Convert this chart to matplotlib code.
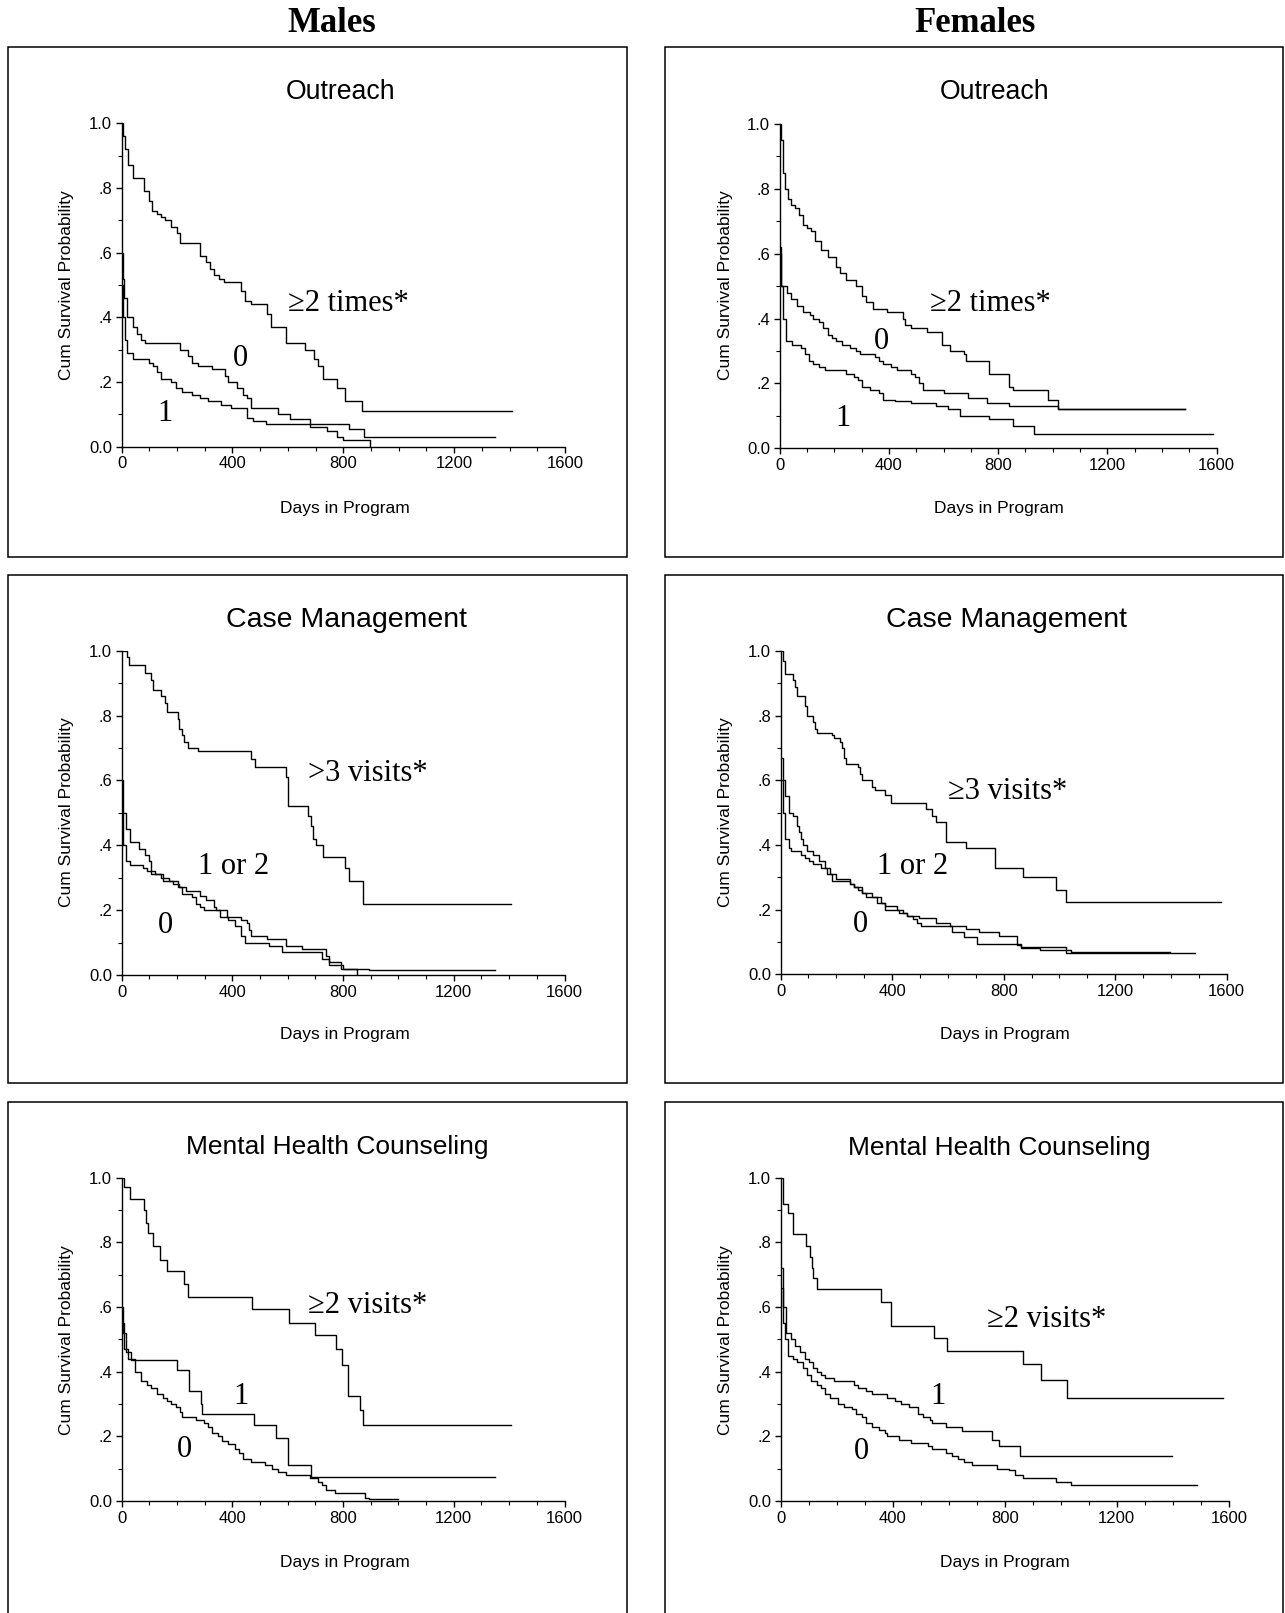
import matplotlib
matplotlib.use("Agg")
import matplotlib.pyplot as plt
from matplotlib.patches import Rectangle

W, H = 1285, 1613

# ---- data: Kaplan-Meier steps (day the level starts, survival level) ----
# Males, Outreach
m_out_2_t = [0, 5, 12, 22, 40, 80, 99, 111, 128, 143, 158, 180, 199, 209, 283, 305, 320, 335, 350, 370, 430, 445, 467, 526, 540, 593, 660, 696, 710, 725, 777, 807, 866, 1408]
m_out_2_s = [1.0, .96, .92, .87, .83, .79, .76, .73, .72, .71, .70, .68, .66, .63, .59, .57, .55, .53, .52, .51, .48, .45, .44, .41, .37, .32, .30, .27, .25, .21, .18, .14, .11, .11]
m_out_0_t = [0, 5, 10, 20, 40, 55, 70, 85, 209, 240, 255, 275, 327, 372, 385, 415, 438, 452, 467, 563, 608, 681, 822, 873, 1348]
m_out_0_s = [.60, .52, .46, .40, .37, .35, .33, .32, .30, .28, .26, .25, .24, .22, .20, .18, .16, .15, .12, .10, .085, .07, .055, .03, .03]
m_out_1_t = [0, 5, 12, 20, 40, 99, 113, 128, 143, 180, 195, 217, 254, 283, 313, 357, 394, 453, 475, 520, 681, 740, 777, 800, 895]
m_out_1_s = [.50, .40, .33, .29, .27, .26, .25, .23, .21, .20, .18, .17, .16, .15, .14, .13, .12, .09, .08, .07, .06, .05, .03, .02, 0.0]

# Females, Outreach
f_out_2_t = [0, 5, 12, 20, 30, 40, 55, 70, 85, 100, 115, 130, 152, 175, 205, 220, 242, 280, 302, 317, 340, 392, 452, 459, 481, 541, 594, 624, 676, 683, 766, 840, 855, 982, 1020, 1483]
f_out_2_s = [1.0, .95, .85, .80, .77, .75, .74, .72, .69, .68, .67, .64, .61, .59, .56, .54, .52, .50, .47, .45, .43, .42, .40, .38, .37, .36, .32, .30, .29, .27, .23, .19, .18, .15, .12, .12]
f_out_0_t = [0, 5, 25, 40, 63, 85, 110, 123, 145, 160, 175, 190, 205, 227, 257, 280, 295, 347, 362, 377, 407, 429, 481, 496, 511, 526, 601, 691, 758, 840, 1020, 1483]
f_out_0_s = [.60, .50, .48, .46, .44, .42, .41, .40, .39, .37, .35, .34, .33, .32, .31, .30, .29, .28, .27, .26, .25, .24, .23, .22, .20, .18, .17, .155, .14, .13, .12, .12]
f_out_1_t = [0, 5, 12, 22, 45, 78, 93, 108, 123, 145, 167, 242, 272, 287, 302, 332, 362, 377, 422, 481, 571, 616, 661, 766, 855, 930, 1588]
f_out_1_s = [.62, .50, .40, .33, .32, .31, .29, .27, .26, .25, .24, .23, .22, .21, .19, .18, .17, .15, .145, .14, .13, .12, .10, .09, .07, .045, .045]

# Males, Case Management
m_cm_3_t = [0, 18, 25, 84, 106, 114, 143, 158, 165, 202, 209, 217, 224, 239, 276, 467, 482, 593, 600, 674, 685, 693, 703, 726, 807, 822, 873, 1408]
m_cm_3_s = [1.0, .98, .955, .93, .91, .88, .86, .84, .81, .79, .76, .74, .72, .70, .69, .665, .64, .61, .52, .49, .46, .42, .40, .365, .33, .29, .22, .22]
m_cm_12_t = [0, 5, 15, 30, 62, 84, 99, 106, 121, 143, 172, 187, 209, 231, 283, 305, 335, 342, 379, 430, 453, 460, 467, 526, 593, 652, 740, 748, 792, 895, 1348]
m_cm_12_s = [.60, .50, .45, .41, .39, .37, .35, .32, .31, .30, .29, .28, .27, .26, .245, .23, .21, .20, .18, .17, .16, .14, .12, .11, .09, .08, .06, .04, .02, .015, .015]
m_cm_0_t = [0, 5, 15, 30, 77, 92, 106, 150, 202, 217, 254, 268, 283, 298, 357, 386, 408, 430, 445, 534, 578, 725, 748, 800, 851]
m_cm_0_s = [.50, .40, .35, .34, .33, .32, .31, .29, .27, .25, .24, .22, .21, .20, .18, .17, .15, .12, .10, .09, .07, .05, .03, .02, 0.0]

# Females, Case Management
f_cm_3_t = [0, 7, 15, 44, 51, 59, 88, 95, 117, 124, 132, 183, 190, 212, 220, 227, 234, 278, 286, 293, 329, 337, 373, 395, 520, 542, 556, 593, 666, 768, 871, 988, 1025, 1581]
f_cm_3_s = [1.0, .97, .93, .91, .89, .86, .83, .80, .78, .76, .745, .74, .73, .72, .70, .67, .65, .64, .62, .60, .58, .57, .555, .53, .51, .49, .47, .41, .39, .33, .30, .26, .225, .225]
f_cm_12_t = [0, 7, 15, 29, 44, 59, 66, 73, 81, 95, 117, 139, 161, 176, 198, 249, 263, 293, 307, 359, 373, 417, 439, 454, 498, 556, 608, 666, 710, 783, 849, 864, 930, 1040, 1398]
f_cm_12_s = [.67, .60, .55, .50, .49, .46, .44, .42, .40, .38, .37, .35, .33, .31, .295, .28, .27, .25, .24, .22, .21, .20, .19, .18, .175, .16, .15, .14, .13, .12, .09, .08, .075, .07, .07]
f_cm_0_t = [0, 7, 15, 29, 37, 73, 88, 103, 117, 146, 168, 183, 249, 263, 278, 293, 329, 344, 373, 424, 454, 476, 490, 505, 615, 659, 703, 864, 1025, 1486]
f_cm_0_s = [.60, .50, .42, .39, .38, .37, .36, .35, .34, .33, .31, .29, .28, .27, .26, .25, .24, .22, .20, .19, .18, .17, .16, .15, .13, .115, .095, .085, .065, .065]

# Males, Mental Health Counseling
m_mh_2_t = [0, 10, 29, 80, 88, 94, 114, 139, 165, 224, 239, 470, 603, 699, 773, 795, 818, 861, 873, 1408]
m_mh_2_s = [1.0, .97, .935, .90, .86, .83, .79, .745, .71, .67, .63, .595, .55, .515, .47, .42, .325, .28, .235, .235]
m_mh_1_t = [0, 5, 15, 35, 199, 242, 286, 292, 480, 558, 602, 683, 1348]
m_mh_1_s = [.60, .52, .46, .435, .405, .34, .30, .27, .235, .195, .11, .075, .075]
m_mh_0_t = [0, 10, 22, 47, 69, 92, 106, 128, 150, 165, 180, 195, 210, 217, 268, 298, 313, 327, 350, 364, 386, 408, 423, 438, 467, 519, 542, 564, 593, 681, 711, 725, 740, 770, 880, 895, 998]
m_mh_0_s = [.55, .47, .44, .40, .37, .36, .35, .33, .32, .31, .30, .29, .275, .26, .25, .24, .23, .21, .20, .185, .175, .16, .15, .13, .12, .11, .10, .09, .08, .07, .06, .05, .035, .025, .01, .005, .005]

# Females, Mental Health Counseling
f_mh_2_t = [0, 9, 26, 44, 92, 106, 112, 117, 131, 360, 393, 549, 593, 867, 930, 1023, 1581]
f_mh_2_s = [1.0, .92, .89, .825, .79, .755, .72, .69, .655, .615, .54, .505, .465, .425, .375, .32, .32]
f_mh_1_t = [0, 10, 20, 36, 51, 70, 87, 102, 117, 131, 146, 160, 189, 262, 277, 306, 328, 379, 408, 430, 459, 489, 510, 532, 539, 590, 648, 755, 780, 853, 1399]
f_mh_1_s = [.72, .60, .52, .50, .48, .46, .44, .43, .41, .40, .39, .38, .37, .36, .35, .34, .33, .32, .31, .30, .29, .27, .26, .25, .24, .23, .215, .19, .17, .14, .14]
f_mh_0_t = [0, 10, 15, 26, 44, 58, 80, 95, 109, 131, 146, 160, 175, 204, 226, 255, 270, 291, 306, 328, 350, 372, 379, 423, 466, 525, 539, 590, 612, 634, 656, 685, 772, 816, 838, 867, 984, 1035, 1486]
f_mh_0_s = [.66, .55, .50, .45, .44, .43, .41, .39, .37, .36, .35, .33, .32, .30, .29, .285, .27, .26, .24, .23, .22, .21, .20, .19, .18, .17, .16, .15, .14, .13, .12, .11, .10, .095, .08, .07, .06, .05, .05]

titles = ["Outreach", "Outreach", "Case Management", "Case Management",
          "Mental Health Counseling", "Mental Health Counseling"]
series = [
    [(m_out_2_t, m_out_2_s), (m_out_0_t, m_out_0_s), (m_out_1_t, m_out_1_s)],
    [(f_out_2_t, f_out_2_s), (f_out_0_t, f_out_0_s), (f_out_1_t, f_out_1_s)],
    [(m_cm_3_t, m_cm_3_s), (m_cm_12_t, m_cm_12_s), (m_cm_0_t, m_cm_0_s)],
    [(f_cm_3_t, f_cm_3_s), (f_cm_12_t, f_cm_12_s), (f_cm_0_t, f_cm_0_s)],
    [(m_mh_2_t, m_mh_2_s), (m_mh_1_t, m_mh_1_s), (m_mh_0_t, m_mh_0_s)],
    [(f_mh_2_t, f_mh_2_s), (f_mh_1_t, f_mh_1_s), (f_mh_0_t, f_mh_0_s)],
]
curve_labels = [
    ["≥2 times*", "0", "1"],
    ["≥2 times*", "0", "1"],
    [">3 visits*", "1 or 2", "0"],
    ["≥3 visits*", "1 or 2", "0"],
    ["≥2 visits*", "1", "0"],
    ["≥2 visits*", "1", "0"],
]

# ---- layout (pixels) ----
# axes: x at day 0, x at day 1600, y at 1.0, y at 0.0
ax_px = [(121.6, 565, 123.3, 446.7), (779.8, 1216.5, 124, 448.3),
         (121.6, 564.5, 650.7, 975), (780.6, 1226.7, 651, 974.3),
         (121.6, 564.5, 1177.7, 1501), (780.6, 1228.8, 1177.7, 1501)]
boxes = [(8, 626.5, 47.3, 556.6), (664.6, 1283, 47.3, 556.6),
         (8, 626.5, 575, 1083), (664.6, 1283, 575, 1083),
         (8, 626.5, 1102, 1625), (664.6, 1283, 1102, 1625)]
title_px = [(341, 91.7), (995, 91.7), (347, 620), (1007, 620), (337, 1147), (999, 1148)]
title_fs = [19.2, 19.2, 20.5, 20.5, 19, 19]
xlab_px = [(345, 508), (999, 508), (345, 1034), (1005, 1035), (345, 1562), (1005, 1562)]
ylab_px = [(67, 285), (725.5, 285), (67, 812), (725.5, 812), (67, 1340), (725.5, 1340)]
# label anchors in data units (x day, y prob, horizontal alignment)
lab_pos = [
    [(600, .443, "left"), (430, .273, "center"), (158, .103, "center")],
    [(549, .447, "left"), (372, .329, "center"), (230, .0925, "center")],
    [(674, .622, "left"), (276, .334, "left"), (158, .154, "center")],
    [(600, .565, "left"), (344, .333, "left"), (288, .153, "center")],
    [(674, .606, "left"), (433, .323, "center"), (227, .158, "center")],
    [(736, .560, "left"), (561, .323, "center"), (288, .152, "center")],
]

sans = "Liberation Sans"
serif = "Liberation Serif"

fig = plt.figure(figsize=(W / 100, H / 100), dpi=100)


def fx(x):
    return x / W


def fy(y):
    return 1 - y / H


fig.text(fx(332), fy(23), "Males", ha="center", va="center",
         family=serif, weight="bold", fontsize=25)
fig.text(fx(975), fy(23), "Females", ha="center", va="center",
         family=serif, weight="bold", fontsize=25)

for i in range(6):
    bx0, bx1, by0, by1 = boxes[i]
    fig.patches.append(Rectangle((fx(bx0), fy(by1)), fx(bx1 - bx0), (by1 - by0) / H,
                                 transform=fig.transFigure, fill=False,
                                 edgecolor="black", linewidth=1.1))
    x0, x1, yt, yb = ax_px[i]
    ax = fig.add_axes([fx(x0), fy(yb), fx(x1 - x0), (yb - yt) / H])
    for t, s in series[i]:
        ax.step(t, s, where="post", color="black", linewidth=1.0)
    for (lx, ly, ha), txt in zip(lab_pos[i], curve_labels[i]):
        ax.text(lx, ly, txt, ha=ha, va="center", family=serif, fontsize=22)
    ax.set_xlim(0, 1600)
    ax.set_ylim(0, 1.0)
    ax.set_xticks([0, 400, 800, 1200, 1600])
    ax.set_xticks(range(0, 1601, 100), minor=True)
    ax.set_yticks([0, .2, .4, .6, .8, 1.0])
    ax.set_yticks([.1, .3, .5, .7, .9], minor=True)
    ax.set_yticklabels(["0.0", ".2", ".4", ".6", ".8", "1.0"])
    ax.spines["top"].set_visible(False)
    ax.spines["right"].set_visible(False)
    ax.spines["left"].set_linewidth(1.0)
    ax.spines["bottom"].set_linewidth(1.0)
    ax.tick_params(which="major", length=4, width=1, pad=3, labelsize=12)
    ax.tick_params(which="minor", length=3, width=0.8)
    for lab in ax.get_xticklabels() + ax.get_yticklabels():
        lab.set_family(sans)
    fig.text(fx(title_px[i][0]), fy(title_px[i][1]), titles[i], ha="center",
             va="center", family=sans, fontsize=title_fs[i])
    fig.text(fx(xlab_px[i][0]), fy(xlab_px[i][1]), "Days in Program", ha="center",
             va="center", family=sans, fontsize=12.5)
    fig.text(fx(ylab_px[i][0]), fy(ylab_px[i][1]), "Cum Survival Probability",
             ha="center", va="center", rotation=90, family=sans, fontsize=12.5)

fig.savefig("out.png", dpi=100)
